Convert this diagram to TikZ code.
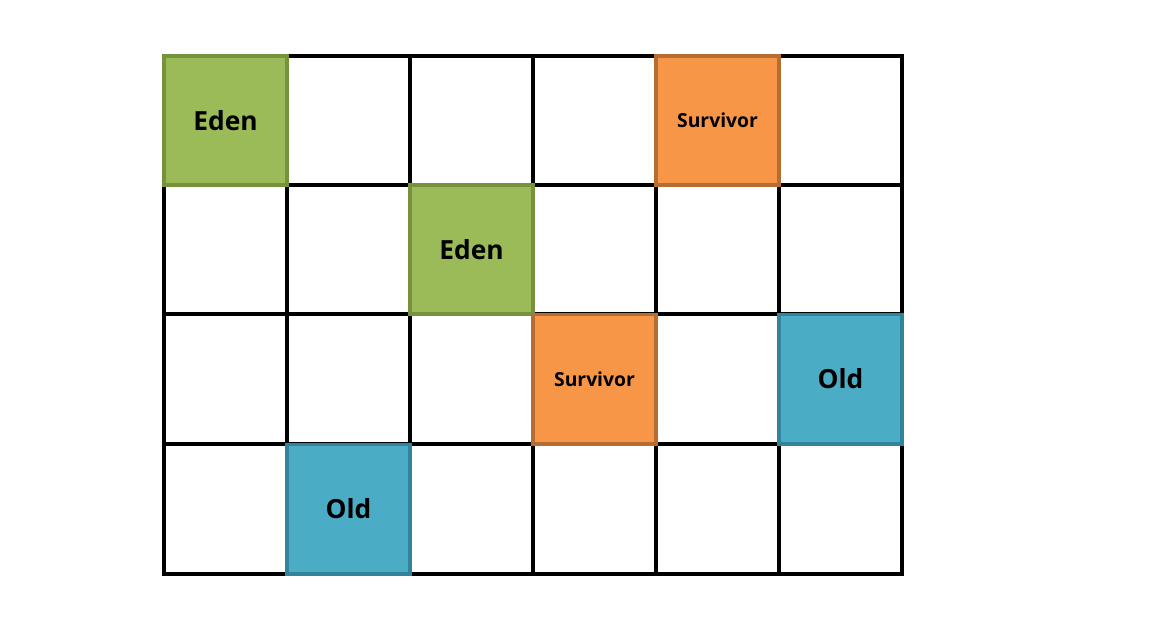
\documentclass[tikz,border=0pt]{standalone}
\usepackage{fontspec}
\setmainfont{Open Sans}
\usepackage{tikz}
\usetikzlibrary{positioning}
\definecolor{edenfill}{HTML}{9BBB59}
\definecolor{edenline}{HTML}{76923C}
\definecolor{survfill}{HTML}{F79646}
\definecolor{survline}{HTML}{B66D31}
\definecolor{oldfill}{HTML}{4BACC6}
\definecolor{oldline}{HTML}{31849B}
\tikzset{
  regcell/.style={rectangle, line width=2pt, inner sep=0pt,
                  minimum width=2.46cm, minimum height=2.59cm,
                  align=center, font=\bfseries\fontsize{15}{16}\selectfont},
  edencell/.style={regcell, fill=edenfill, draw=edenline},
  survcell/.style={regcell, fill=survfill, draw=survline,
                   font=\bfseries\fontsize{11}{12}\selectfont},
  oldcell/.style={regcell, fill=oldfill, draw=oldline},
  gridline/.style={line width=2pt, black, line cap=rect},
}
\begin{document}
\begin{tikzpicture}[x=0.02cm, y=-0.02cm]
    \useasboundingbox (0,0) rectangle (1166,630);
    % Raster der Regionen
    \foreach \gx in {164,287,410,533,656,779,902}
      \draw[gridline] (\gx,56) -- (\gx,574);
    \foreach \gy in {56,185,314,444,574}
      \draw[gridline] (164,\gy) -- (902,\gy);
    % Eden-Regionen
    \node[edencell] (eden1) at (225.5,120.5) {Eden};
    \node[edencell] (eden2) at (471.5,249.5) {Eden};
    % Survivor-Regionen
    \node[survcell] (surv1) at (717.5,120.5) {Survivor};
    \node[survcell] (surv2) at (594.5,379) {Survivor};
    % Old-Regionen
    \node[oldcell] (old1) at (840.5,379) {Old};
    \node[oldcell] (old2) at (348.5,509) {Old};
\end{tikzpicture}
\end{document}
